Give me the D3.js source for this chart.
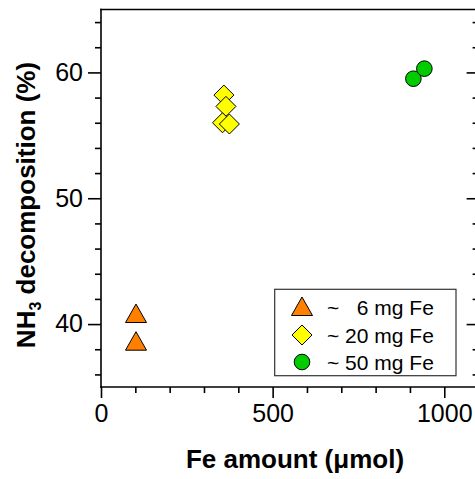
<!DOCTYPE html>
<html><head><meta charset="utf-8">
<script src="https://cdn.jsdelivr.net/npm/d3@7"></script>
<style>body{margin:0;background:#fff}svg{display:block}text{font-family:"Liberation Sans",Arial,sans-serif}</style>
</head><body>
<script>
const seriesNames = ["~ \u20076 mg Fe", "~ 20 mg Fe", "~ 50 mg Fe"];
const seriesColors = ["#ff8000", "#ffff00", "#00cc00"];
const seriesShapes = ["triangle", "diamond", "circle"];
const fe6X = [102, 102];
const fe6Y = [40.8, 38.6];
const fe20X = [358, 364, 354, 374];
const fe20Y = [58.2, 57.3, 56.0, 55.9];
const fe50X = [910, 942];
const fe50Y = [59.5, 60.3];
const xTicks = [0, 500, 1000];
const yTicks = [40, 50, 60];

const W = 475, H = 479;
const m = {left: 101, top: 9.5, right: 478.6, bottom: 387};
const svg = d3.select("body").append("svg").attr("width", W).attr("height", H);
const x = d3.scaleLinear().domain([0, 1100]).range([m.left, m.right]);
const y = d3.scaleLinear().domain([35, 65]).range([m.bottom, m.top]);

const sw = 1.6;
const xMinor = d3.range(100, 1100, 100).filter(v => !xTicks.includes(v));
const yMinor = d3.range(36, 65, 2).filter(v => !yTicks.includes(v));

svg.append("g").attr("transform", `translate(0,${m.bottom})`)
  .call(d3.axisBottom(x).tickValues(xTicks).tickSize(11).tickPadding(6).tickFormat(d3.format("d")));
svg.append("g").attr("transform", `translate(0,${m.bottom})`)
  .call(d3.axisBottom(x).tickValues(xMinor).tickSize(6).tickFormat(""));
svg.append("g").attr("transform", `translate(${m.left},0)`)
  .call(d3.axisLeft(y).tickValues(yTicks).tickSize(13).tickPadding(5));
svg.append("g").attr("transform", `translate(${m.left},0)`)
  .call(d3.axisLeft(y).tickValues(yMinor).tickSize(6).tickFormat(""));
svg.append("g").attr("transform", `translate(${m.right},0)`)
  .call(d3.axisLeft(y).tickValues(yTicks).tickSize(12).tickFormat(""));
svg.append("g").attr("transform", `translate(${m.right},0)`)
  .call(d3.axisLeft(y).tickValues(yMinor).tickSize(6).tickFormat(""));

svg.selectAll(".domain").remove();
svg.selectAll(".tick line").attr("stroke-width", sw);
svg.selectAll(".tick text").attr("font-size", 25).attr("fill", "#000")
  .attr("font-family", "Liberation Sans, Arial, sans-serif");
svg.selectAll(".tick text").filter(function(){return this.parentNode.parentNode.getAttribute("transform").startsWith("translate(101");}).attr("dy", "0.31em");

// frame
const frame = [[m.left, m.top, m.right, m.top], [m.left, m.bottom, m.right, m.bottom],
  [m.left, m.top, m.left, m.bottom], [m.right, m.top, m.right, m.bottom]];
frame.forEach(f => svg.append("line").attr("x1", f[0]).attr("y1", f[1]).attr("x2", f[2]).attr("y2", f[3])
  .attr("stroke", "#000").attr("stroke-width", sw).attr("stroke-linecap", "square"));

function marker(g, shape, color, cx, cy) {
  let p;
  if (shape === "triangle") {
    p = g.append("path").attr("d", "M0,-10L10.5,8.5L-10.5,8.5Z");
  } else if (shape === "diamond") {
    p = g.append("path").attr("d", "M0,-10L10,0L0,10L-10,0Z");
  } else {
    p = g.append("circle").attr("r", 7.8);
  }
  p.attr("transform", `translate(${cx},${cy})`).attr("fill", color).attr("stroke", "#000").attr("stroke-width", 1);
}
const data = [[fe6X, fe6Y], [fe20X, fe20Y], [fe50X, fe50Y]];
const pts = svg.append("g");
data.forEach(([xs, ys], i) => {
  xs.forEach((v, j) => marker(pts, seriesShapes[i], seriesColors[i], x(v), y(ys[j])));
});

// legend
const lg = svg.append("g");
lg.append("rect").attr("x", 274.7).attr("y", 289.3).attr("width", 181.3).attr("height", 86.4)
  .attr("fill", "#fff").attr("stroke", "#333").attr("stroke-width", 1.2);
const rowsY = [307, 335, 362];
seriesNames.forEach((n, i) => {
  marker(lg, seriesShapes[i], seriesColors[i], 302, rowsY[i]);
  lg.append("text").attr("x", 327).attr("y", rowsY[i]).attr("dy", "0.36em")
    .attr("font-size", 21).style("white-space", "pre").text(n);
});

// axis titles
svg.append("text").attr("x", 295).attr("y", 467.5).attr("text-anchor", "middle")
  .attr("font-size", 26).attr("font-weight", "bold").text("Fe amount (\u03bcmol)");
const yt = svg.append("text").attr("transform", "translate(35,205) rotate(-90)").attr("text-anchor", "middle")
  .attr("font-size", 26).attr("font-weight", "bold");
yt.append("tspan").text("NH");
yt.append("tspan").attr("font-size", 16).attr("dy", 6).text("3");
yt.append("tspan").attr("dy", -6).text(" decomposition (%)");
</script>
</body></html>
